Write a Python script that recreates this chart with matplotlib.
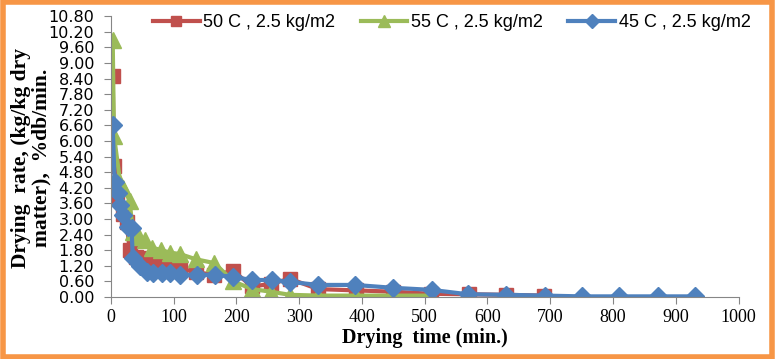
import numpy as np
import matplotlib
matplotlib.use('Agg')
import matplotlib.pyplot as plt
from matplotlib.patches import Rectangle

######################################
# data

# 50 C , 2.5 kg/m2
t_50 = [3, 5, 10, 20, 25, 30, 40, 45, 55, 65, 80, 95, 110, 135, 165, 195, 225, 255, 285, 330, 390, 450, 510, 570, 630, 690]
r_50 = [8.5, 5.05, 3.9, 3.2, 2.9, 1.8, 1.55, 1.5, 1.35, 1.25, 1.2, 1.1, 1.1, 0.95, 0.85, 1.0, 0.4, 0.5, 0.7, 0.3, 0.25, 0.2, 0.12, 0.1, 0.08, 0.05]

# 55 C , 2.5 kg/m2
t_55 = [3, 5, 15, 20, 30, 35, 45, 55, 65, 80, 95, 110, 135, 165, 195, 225, 255, 285, 330, 390, 450, 510]
r_55 = [9.9, 6.2, 4.4, 4.2, 3.7, 2.5, 2.3, 2.2, 1.9, 1.8, 1.7, 1.65, 1.45, 1.3, 0.6, 0.3, 0.2, 0.08, 0.05, 0.05, 0.05, 0.05]

# 45 C , 2.5 kg/m2
t_45 = [3, 6, 11, 14, 19, 27, 33, 35, 46, 57, 67, 81, 94, 110, 137, 166, 194, 225, 256, 285, 330, 389, 449, 511, 569, 630, 691, 750, 810, 871, 930]
r_45 = [6.6, 4.42, 4.0, 3.54, 3.15, 2.7, 2.65, 1.5, 1.19, 0.96, 0.92, 0.92, 0.92, 0.85, 0.85, 0.85, 0.77, 0.65, 0.65, 0.58, 0.46, 0.46, 0.35, 0.27, 0.1, 0.08, 0.05, 0.02, 0.02, 0.02, 0.02]

labels = ['50 C , 2.5 kg/m2', '55 C , 2.5 kg/m2', '45 C , 2.5 kg/m2']
colors = ['#C0504D', '#9BBB59', '#4F81BD']

######################################

fig = plt.figure(figsize=(7.75, 3.59), dpi=100)
ax = fig.add_axes([0.143, 0.173, 0.81, 0.782])

ax.plot(t_50, r_50, '-s', color=colors[0], lw=3, ms=10.5, label=labels[0])
ax.plot(t_55, r_55, '-^', color=colors[1], lw=3, ms=12, label=labels[1])
ax.plot(t_45, r_45, '-D', color=colors[2], lw=3, ms=9.5, label=labels[2])

ax.set_xlim(0, 1000)
ax.set_ylim(0, 10.8)
ax.set_xticks(np.arange(0, 1001, 100))
ax.set_yticks(np.round(np.arange(0, 10.81, 0.6), 2))
ax.set_yticklabels(['%.2f' % v for v in np.arange(0, 10.81, 0.6)], fontsize=11.5, family='DejaVu Sans')
for lab in ax.get_xticklabels():
    lab.set_family('Liberation Serif')
    lab.set_fontsize(13)

for s in ['top', 'right']:
    ax.spines[s].set_visible(False)
for s in ['left', 'bottom']:
    ax.spines[s].set_color('#868686')
ax.tick_params(direction='out', color='#868686', length=5)
ax.tick_params(axis='y', pad=7)
ax.tick_params(axis='x', pad=4)

ax.set_xlabel('Drying  time (min.)', family='Liberation Serif', fontweight='bold', fontsize=14.5, labelpad=1)
fig.text(0.040, 0.56, 'Drying  rate, (kg/kg dry\nmatter),  %db/min.', rotation=90,
         family='Liberation Serif', fontweight='bold', fontsize=15.5, ha='center', va='center',
         linespacing=1.0)

ax.legend(loc='upper center', bbox_to_anchor=(0.543, 1.065), ncol=3, frameon=False,
          prop={'family': 'Liberation Sans', 'size': 13}, handlelength=2.6,
          columnspacing=1.4, handletextpad=0.2, markerscale=0.7)

# orange border round the figure
fig.patches.append(Rectangle((0.004, 0.006), 0.992, 0.988, transform=fig.transFigure,
                             fill=False, edgecolor='#F79646', linewidth=4))

fig.savefig('out.png', dpi=100)
